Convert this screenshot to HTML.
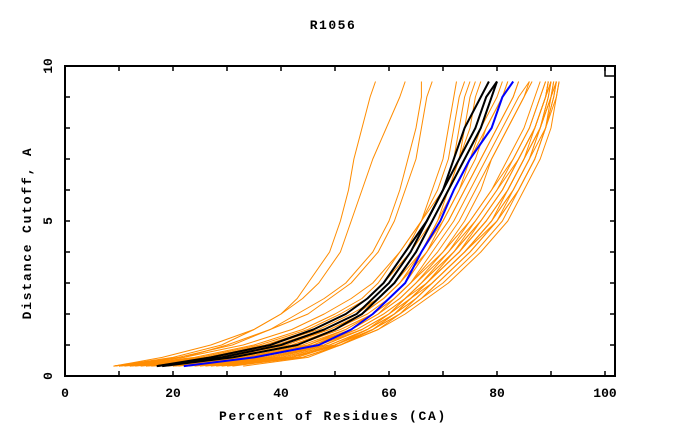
<!DOCTYPE html>
<html><head><meta charset="utf-8"><style>
html,body{margin:0;padding:0;background:#fff;}
svg{display:block;font-family:"Liberation Mono",monospace;font-weight:bold;}
</style></head><body>
<svg id="chart" width="680" height="440" viewBox="0 0 680 440" xmlns="http://www.w3.org/2000/svg">
<rect x="0" y="0" width="680" height="440" fill="#fff"/>
<text x="333" y="29" font-size="13" letter-spacing="1.5" text-anchor="middle">R1056</text>
<text x="333" y="420" font-size="13" letter-spacing="1.7" text-anchor="middle">Percent of Residues (CA)</text>
<text x="0" y="0" font-size="13" letter-spacing="1.8" text-anchor="middle" transform="translate(31,233) rotate(-90)">Distance Cutoff, A</text>
<g id="series"></g>
<g id="axes"></g>
</svg>
<script>
const levels = [0.32,0.6,1,1.5,2,2.5,3,4,5,6,7,8,9,9.5];
const orangeCurves = [
[20,35,46,53,58,61,64,70,75,79,83,86,88,89],
[22,38,48,55,60,63,66,72,77,81,84,87,89,90],
[25,40,50,56,61,65,68,74,79,83,86,88,90,90.5],
[28,42,51,57,62,66,69,75,80,84,87,89,90.5,91],
[30,44,51,58,63,67,71,77,82,85,88,90,91,91.5],
[18,36,47,54,59,63,67,73,78,82,85,88,89.5,90],
[15,34,45,53,58,62,65,71,76,80,84,87,89,89.5],
[24,40,50,57,62,66,70,76,81,84,87,89,90.5,91],
[27,42,50,56,61,65,68,74,79,82,85,87,89,89.5],
[33,45,51,57,61,64,67,73,78,82,85,88,90,90.5],
[12,33,46,54,59,63,66,72,77,81,84,87,89,90],
[20,38,49,56,61,64,67,72,76,80,83,86,88,89],
[26,41,51,58,62,66,69,75,80,83,86,89,90,91],
[16,35,47,55,60,64,67,73,78,82,85,88,89.5,90],
[29,43,50,57,62,65,68,74,79,83,86,88,90,91],
[23,39,49,56,60,63,66,71,75,79,82,85,87,88],
[19,37,48,55,60,64,68,74,80,84,87,89,91,91.5],
[31,44,51,57,61,64,67,73,77,81,84,87,89,89.5],
[14,32,43,51,57,61,64,69,73,76,79,82,85,86],
[10,28,40,49,55,59,62,67,71,74,77,80,83,84],
[18,33,44,52,57,60,63,67,70,73,76,78,81,82],
[12,27,38,47,53,58,61,66,70,73,75,77,79,80],
[21,35,45,52,57,61,64,68,72,75,78,81,84,86],
[9,25,36,45,51,56,59,64,68,71,73,75,76,77],
[15,30,41,49,55,59,62,66,69,71,73,74,75,76],
[11,26,37,46,52,56,59,63,66,69,71,72,73,74],
[13,28,39,48,54,58,61,65,68,71,74,77,80,81],
[16,31,42,50,56,60,63,67,71,74,77,80,83,84],
[20,36,46,53,58,62,65,70,74,77,79,82,85,86.5],
[10,24,35,44,50,55,58,62,66,68,70,71,72,72.5],
[17,32,42,50,55,59,62,66,69,72,75,78,81,82],
[9,22,33,42,48,53,57,62,66,70,72,73,74,75],
[9,20,29,35,40,43,45,49,51,52.5,53.5,55,56.5,57.5],
[9,18,27,35,40,44,47,51,53,55,57,59.5,62,63],
[10,22,30,38,43,48,52,57,60,62,63.5,65,66,66],
[9,21,31,38,45,49,53,58,61,63,65,66,67,68]
];
const blackCurves = [
[17,27,38,46,52,56,59,63,67,70,72,74,77,78.5],
[17,29,40,48,54,57,60,64,67,70,73,76,78,80],
[18,31,43,50,55,58,61,65,68,71,74,77,79,80]
];
const blueCurve = [22,35,47,53,57,60,63,66,69.5,72,75,79,81,83];
const xTickLabels = [0,20,40,60,80,100];
const yTickLabels = [0,5,10];

const NS = "http://www.w3.org/2000/svg";
const L = 65, R = 615, T = 66, B = 376;
function xs(v){ return L + v * 5.4; }
function ys(v){ return B - v * (B - T) / 10; }
function mk(tag, attrs, parent){
  const e = document.createElementNS(NS, tag);
  for (const k in attrs) e.setAttribute(k, attrs[k]);
  parent.appendChild(e);
  return e;
}
const series = document.getElementById('series');
const axes = document.getElementById('axes');
function drawCurve(vals, color, w, name){
  const pts = vals.map((v,i)=>xs(v).toFixed(1)+','+ys(levels[i]).toFixed(1)).join(' ');
  const p = mk('polyline', {points: pts, fill:'none', stroke: color, 'stroke-width': w, 'stroke-linejoin':'round'}, series);
  
  
}
orangeCurves.forEach((c,i)=>drawCurve(c, '#ff8c00', 1, 'model-curve-' + (i+1)));
blackCurves.forEach((c,i)=>drawCurve(c, '#000', 2, 'highlight-curve-' + (i+1)));
drawCurve(blueCurve, '#0000ff', 2, 'reference-curve');

const frame = mk('rect', {x:L, y:T, width:R-L, height:B-T, fill:'none', stroke:'#000', 'stroke-width':2}, axes);


const corner = mk('rect', {x:605, y:T, width:10, height:10, fill:'none', stroke:'#000', 'stroke-width':1.5}, axes);


for (let v = 10; v < 101; v += 10){
  const x = xs(v);
  mk('line', {x1:x, y1:B, x2:x, y2:B-5, stroke:'#000', 'stroke-width':1.5}, axes);
  mk('line', {x1:x, y1:T, x2:x, y2:T+5, stroke:'#000', 'stroke-width':1.5}, axes);
}
for (let v = 1; v < 10; v++){
  const y = ys(v);
  mk('line', {x1:L, y1:y, x2:L+5, y2:y, stroke:'#000', 'stroke-width':1.5}, axes);
  mk('line', {x1:R, y1:y, x2:R-5, y2:y, stroke:'#000', 'stroke-width':1.5}, axes);
}
xTickLabels.forEach(v=>{
  const t = mk('text', {x: xs(v), y: 397, 'font-size': 13, 'text-anchor':'middle'}, axes);
  t.textContent = v;
  
  
});
yTickLabels.forEach(v=>{
  const t = mk('text', {x:0, y:0, 'font-size': 13, 'text-anchor':'middle', transform:'translate(52,'+ys(v)+') rotate(-90)'}, axes);
  t.textContent = v;
  
  
});
</script>
</body></html>
